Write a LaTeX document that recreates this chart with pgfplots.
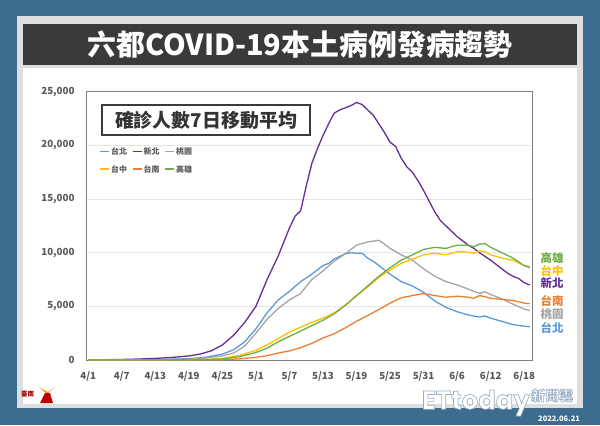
\documentclass[border=0pt]{standalone}
\usepackage{pgfplots}
\pgfplotsset{compat=1.18}
\usepackage{fontspec}
\setmainfont{Noto Sans CJK TC}
\newfontfamily\popfont{Poppins}
\definecolor{bgblue}{RGB}{61,108,143}
\definecolor{panelgray}{RGB}{222,221,224}
\definecolor{titlegray}{RGB}{58,58,58}
\definecolor{txtgray}{RGB}{89,89,89}
\definecolor{cTP}{RGB}{91,155,213}
\definecolor{cNTP}{RGB}{96,48,150}
\definecolor{cTY}{RGB}{165,165,165}
\definecolor{cTC}{RGB}{255,192,0}
\definecolor{cTN}{RGB}{237,125,49}
\definecolor{cKH}{RGB}{112,173,71}
\newcommand\outl[1]{\special{pdf:literal 2 Tr 0.7 w 0.60 0.68 0.76 RG}#1\special{pdf:literal 0 Tr}}
\newcommand\lgd[2]{\makebox[32.5bp][l]{\textcolor{#1}{\rule[2.4bp]{9bp}{1.3bp}}\hspace{2bp}\textcolor{txtgray}{#2}}}
\begin{document}
\begin{tikzpicture}[x=1bp,y=1bp]
\useasboundingbox (0,0) rectangle (600,425);
\fill[bgblue] (0,0) rectangle (600,425);
\fill[panelgray] (17,17) rectangle (583,409);
\fill[titlegray] (23,360) rectangle (577,401);
\fill[white] (23,21) rectangle (577,357);
\node[text=white,font=\bfseries\fontsize{29}{32}\selectfont] at (300,380.5) {六都COVID-19本土病例發病趨勢};
\begin{axis}[
  at={(86bp,65bp)}, anchor=south west,
  scale only axis, width=446bp, height=268.3bp,
  xmin=-0.4, xmax=79.4, ymin=0, ymax=25000,
  xtick={0,6,...,78},
  xticklabels={4/1,4/7,4/13,4/19,4/25,5/1,5/7,5/13,5/19,5/25,5/31,6/6,6/12,6/18},
  ytick={0,5000,...,25000},
  scaled y ticks=false,
  /pgf/number format/.cd, 1000 sep={,}, assume math mode=true,
  /pgfplots/.cd,
  major tick length=0pt,
  ymajorgrids, grid style={color=black!10, line width=0.6pt},
  axis line style={color=black!50, line width=0.8pt},
  tick label style={font=\bfseries\fontsize{9.8}{11}\selectfont, text=txtgray},
  yticklabel style={xshift=-8bp},
  xticklabel style={yshift=-8bp},
  every axis plot/.append style={line width=1.3pt, mark=none},
]
\addplot[color=cTP] coordinates {(0,0) (6,10) (12,40) (18,120) (21,260) (24,550) (26,950) (28,1700) (30,2900) (32,4400) (34,5600) (36,6400) (38,7300) (40,8000) (42,8800) (43,9000) (44,9400) (46,9900) (47,10000) (48,9950) (49,9950) (50,9500) (51,9200) (52,8800) (54,8000) (56,7300) (58,6900) (60,6300) (62,5500) (64,4900) (66,4500) (68,4200) (70,4000) (71,4100) (72,3900) (74,3600) (76,3300) (78,3150) (79,3100)};
\addplot[color=cNTP] coordinates {(0,10) (3,25) (6,50) (9,90) (12,150) (15,240) (18,380) (20,550) (22,850) (24,1400) (26,2300) (28,3500) (30,5000) (32,7500) (34,9700) (35,11000) (36,12300) (37,13400) (38,13900) (39,16200) (40,18300) (41,19700) (42,20900) (43,22000) (44,23000) (45,23300) (46,23500) (47,23700) (48,24000) (49,23800) (50,23300) (51,22800) (52,22000) (53,21200) (54,20300) (55,19900) (56,18800) (57,18000) (58,17500) (59,16700) (60,15800) (61,14800) (62,13800) (63,13000) (64,12500) (66,11500) (68,10700) (69,10400) (70,10000) (72,9300) (74,8500) (75,8100) (76,7800) (77,7600) (78,7200) (79,7000)};
\addplot[color=cTY] coordinates {(0,0) (12,20) (18,80) (21,180) (24,380) (26,650) (28,1300) (30,2500) (32,3800) (34,4800) (36,5600) (38,6200) (40,7500) (42,8300) (44,9200) (46,9900) (48,10700) (50,11000) (52,11150) (53,10800) (54,10400) (56,9800) (58,9300) (60,8500) (62,7800) (64,7300) (66,7000) (68,6600) (70,6200) (71,6350) (72,6100) (74,5700) (76,5200) (78,4750) (79,4600)};
\addplot[color=cTC] coordinates {(0,0) (12,5) (18,25) (22,80) (24,150) (27,420) (30,900) (32,1400) (34,2000) (36,2600) (38,3050) (40,3500) (42,3900) (44,4400) (46,5100) (48,6000) (50,6800) (52,7700) (54,8400) (56,9000) (58,9400) (60,9800) (62,9950) (64,9800) (66,10100) (68,10050) (69,9950) (70,10150) (71,10100) (72,9800) (74,9500) (76,9300) (78,8800) (79,8700)};
\addplot[color=cTN] coordinates {(0,0) (18,5) (24,30) (27,100) (30,250) (32,400) (34,650) (36,850) (38,1150) (40,1550) (42,2050) (44,2450) (46,3000) (48,3600) (50,4150) (52,4700) (54,5300) (56,5800) (58,6000) (60,6200) (62,6000) (64,5850) (66,5950) (68,5850) (69,5750) (70,6000) (71,5900) (72,5750) (74,5650) (76,5550) (78,5300) (79,5250)};
\addplot[color=cKH] coordinates {(0,0) (12,5) (18,15) (22,50) (24,90) (27,300) (30,700) (32,1100) (34,1700) (36,2200) (38,2700) (40,3200) (42,3700) (44,4300) (46,5100) (48,6000) (50,6900) (52,7800) (54,8600) (56,9300) (58,9800) (60,10300) (62,10500) (64,10400) (66,10700) (68,10700) (69,10550) (70,10800) (71,10850) (72,10500) (74,10000) (76,9500) (78,8800) (79,8600)};
\end{axis}
\node[draw=titlegray, line width=1.3pt, fill=white, minimum width=208bp, minimum height=30bp, inner sep=0pt, text=black!80, font=\bfseries\fontsize{19}{21}\selectfont] at (206,305) {確診人數7日移動平均};
% legend
\node[anchor=west, inner sep=0pt, font=\bfseries\fontsize{8}{9}\selectfont] at (100,273.3) {\lgd{cTP}{台北}\lgd{cNTP}{新北}\lgd{cTY}{桃園}};
\node[anchor=west, inner sep=0pt, font=\bfseries\fontsize{8}{9}\selectfont] at (100,256) {\lgd{cTC}{台中}\lgd{cTN}{台南}\lgd{cKH}{高雄}};
\begin{scope}[font=\bfseries\fontsize{11.5}{12}\selectfont]
\node[text=cKH] at (552,167.3) {高雄};
\node[text=cTC] at (552,154.3) {台中};
\node[text=cNTP] at (552,141.7) {新北};
\node[text=cTN] at (552,124) {台南};
\node[text=cTY] at (552,110.7) {桃園};
\node[text=cTP] at (552,97.3) {台北};
\end{scope}
% watermark
\node[text=white, font=\popfont\bfseries\fontsize{26}{28}\selectfont, anchor=east, inner sep=0pt] at (530,22) {\outl{ETtoday}};
\node[text=white, font=\bfseries\fontsize{14}{15}\selectfont, anchor=west, inner sep=0pt] at (531,29.5) {\outl{新聞雲}};
\node[text=white, font=\bfseries\fontsize{7.5}{8}\selectfont, anchor=west, inner sep=0pt] at (538,6) {2022.06.21};
% logo
\node[text=red!60!black, font=\bfseries\fontsize{6.5}{7}\selectfont, inner sep=0pt] at (27.5,31) {臺南};
\fill[orange!80!yellow] (39,38) -- (47,31) -- (55,38) -- (48,33) -- cycle;
\fill[red!75!black] (40,22) -- (45,32) -- (50,32) -- (53,22) -- cycle;
\end{tikzpicture}
\end{document}
